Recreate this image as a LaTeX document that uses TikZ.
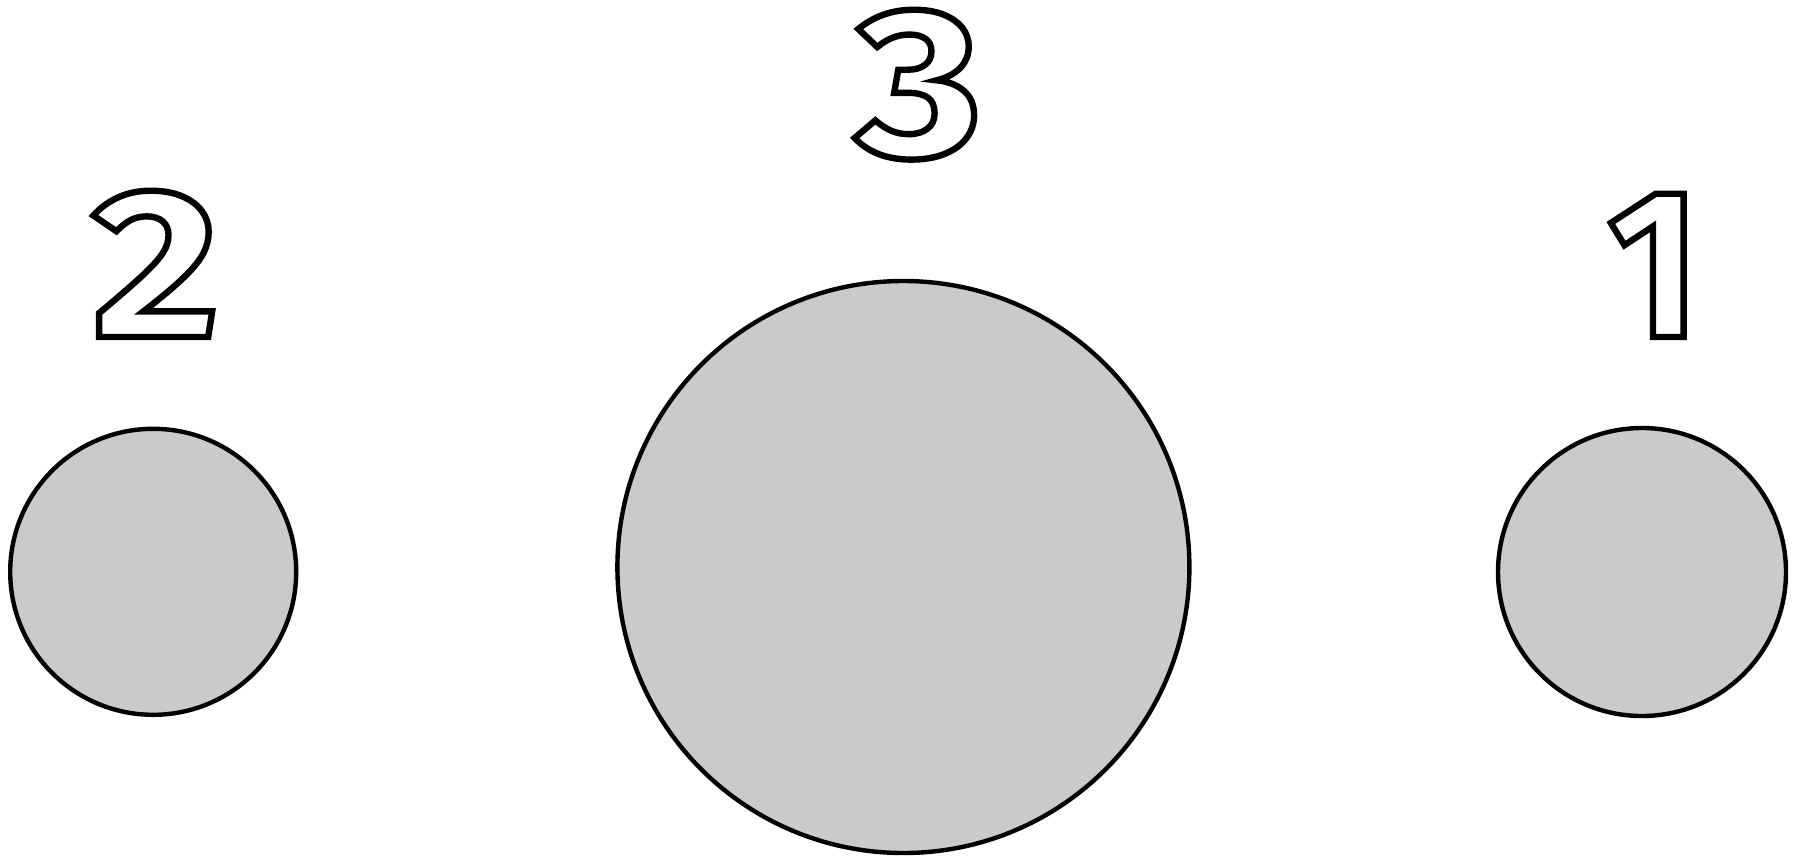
\documentclass[tikz,border=0pt]{standalone}
\usepackage{fontspec}
\setmainfont{Fira Sans}
\definecolor{discgray}{HTML}{CACACA}
\font\outlA="Fira Sans/B:embolden=3;extend=1.17" at 106pt
\font\outlB="Fira Sans/B:embolden=3;extend=1.15" at 106pt
\font\outlC="Fira Sans/B:embolden=3;extend=0.93" at 106pt
\tikzset{
  disc/.style={draw=black, line width=2.2pt, fill=discgray, circle, inner sep=0pt},
  numlabel/.style={anchor=base, inner sep=0pt},
}
\newcommand{\hollow}[1]{\special{pdf:bcolor [1] [0]}#1\special{pdf:ecolor}}
\begin{document}
\begin{tikzpicture}[x=0.5pt,y=-0.5pt]
\useasboundingbox (0,0) rectangle (1793,857);
\fill[white] (0,0) rectangle (1793,857);
\node[disc, minimum size=143pt] (c2) at (153.2,571.8) {};
\node[disc, minimum size=286pt] (c3) at (903.4,567) {};
\node[disc, minimum size=144pt] (c1) at (1642,572) {};
\node[numlabel, font=\outlA] (t2) at (156,337) {\hollow{2}};
\node[numlabel, font=\outlB] (t3) at (919,156) {\hollow{3}};
\node[numlabel, font=\outlC] (t1) at (1654,337) {\hollow{1}};
\end{tikzpicture}
\end{document}
